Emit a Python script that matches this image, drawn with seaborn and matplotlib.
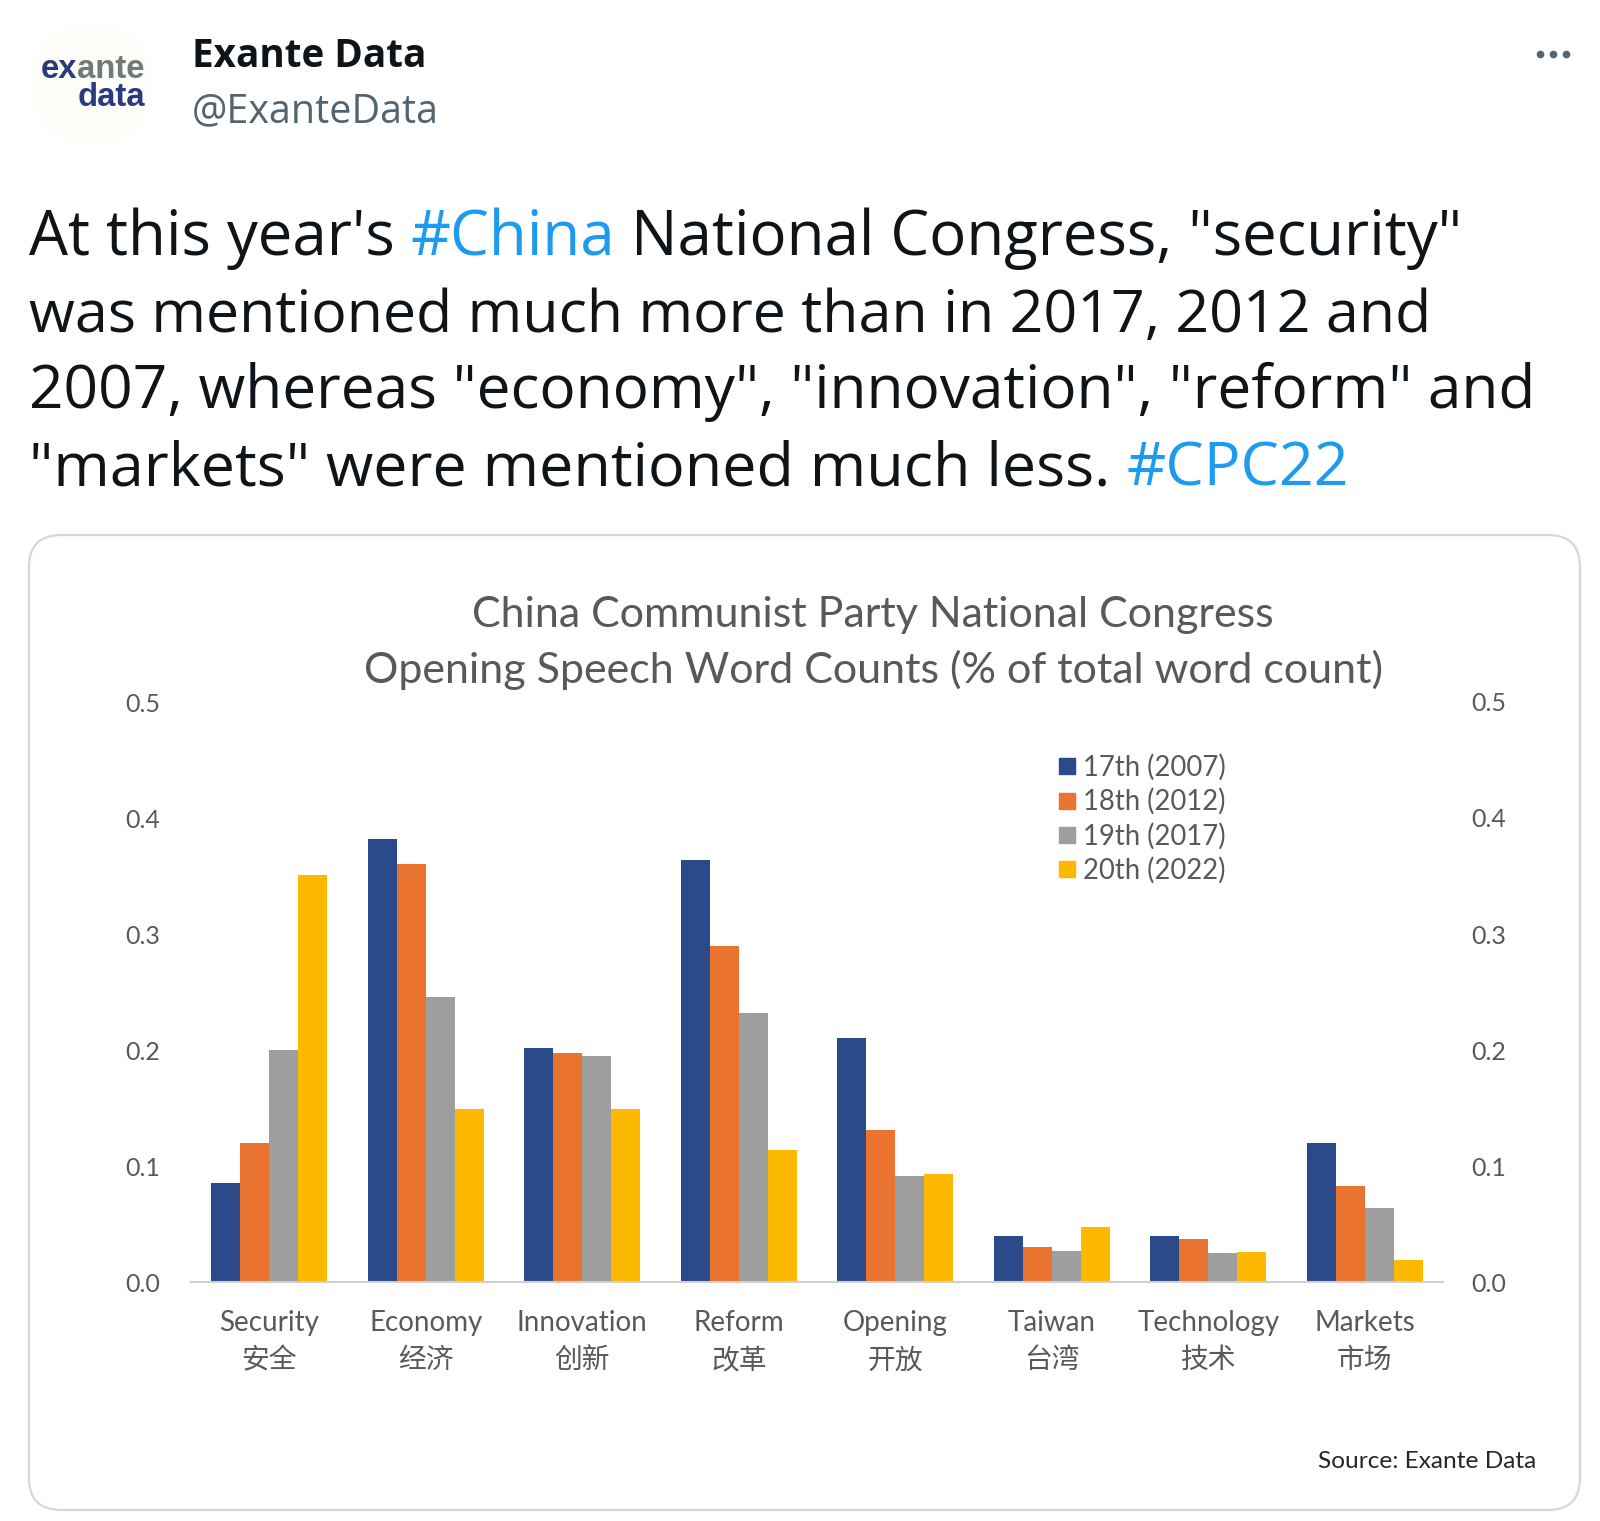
import numpy as np
import pandas as pd
import matplotlib
matplotlib.use("Agg")
import matplotlib.pyplot as plt
import seaborn as sns
from matplotlib.patches import FancyBboxPatch, Circle
from matplotlib.lines import Line2D

# ---------------- data ----------------
categories_en = ["Security", "Economy", "Innovation", "Reform", "Opening", "Taiwan", "Technology", "Markets"]
categories_zh = ["安全", "经济", "创新", "改革", "开放", "台湾", "技术", "市场"]
series_names = ["17th (2007)", "18th (2012)", "19th (2017)", "20th (2022)"]
v2007 = [0.085, 0.382, 0.202, 0.364, 0.210, 0.040, 0.040, 0.120]
v2012 = [0.120, 0.360, 0.197, 0.290, 0.131, 0.030, 0.037, 0.083]
v2017 = [0.200, 0.246, 0.195, 0.232, 0.091, 0.027, 0.025, 0.064]
v2022 = [0.351, 0.149, 0.149, 0.114, 0.093, 0.047, 0.026, 0.019]
y_ticks = [0.0, 0.1, 0.2, 0.3, 0.4, 0.5]
y_tick_labels = ["0.0", "0.1", "0.2", "0.3", "0.4", "0.5"]
colors = ["#2A4A8A", "#EA7330", "#9E9E9E", "#FDB800"]

chart_title = ["China Communist Party National Congress",
               "Opening Speech Word Counts (% of total word count)"]
source_text = "Source: Exante Data"

tweet_name = "Exante Data"
tweet_handle = "@ExanteData"
tweet_lines = [
    [("At this year's ", "k"), ("#China", "b"), (" National Congress, \"security\"", "k")],
    [("was mentioned much more than in 2017, 2012 and", "k")],
    [("2007, whereas \"economy\", \"innovation\", \"reform\" and", "k")],
    [("\"markets\" were mentioned much less. ", "k"), ("#CPC22", "b")],
]
tweet_line_widths = [1436, 1405, 1507, 1318]

labels = [f"{e}\n{z}" for e, z in zip(categories_en, categories_zh)]
series_vals = [v2007, v2012, v2017, v2022]
rows = []
for name, vals in zip(series_names, series_vals):
    for lab, v in zip(labels, vals):
        rows.append({"category": lab, "series": name, "value": v})
df = pd.DataFrame(rows)

# ---------------- figure ----------------
W, H, DPI = 1600, 1521, 100
sns.set_theme(style="white")
plt.rcParams["font.family"] = ["Lato", "Noto Sans CJK SC", "DejaVu Sans"]

fig = plt.figure(figsize=(W / DPI, H / DPI), dpi=DPI)
fig.patch.set_facecolor("white")
renderer = fig.canvas.get_renderer()


def fx(px):
    return px / W


def fy(py):
    return 1 - py / H


def measure(s, size, **kw):
    t = fig.text(0, 0, s, fontsize=size, **kw)
    w = t.get_window_extent(renderer=renderer).width
    t.remove()
    return w


def fitsize(s, target, base=30, **kw):
    return base * target / measure(s, base, **kw)


# card
card = FancyBboxPatch((29 / DPI, (H - 1510) / DPI), (1580 - 29) / DPI, (1510 - 535) / DPI,
                      boxstyle="round,pad=0,rounding_size=0.32",
                      transform=fig.dpi_scale_trans, facecolor="white",
                      edgecolor="#cfd9de", linewidth=1.6, zorder=0)
fig.add_artist(card)

# logo
logo = Circle((92 / DPI, (H - 84) / DPI), 62 / DPI, transform=fig.dpi_scale_trans,
              facecolor="#fdfdfa", edgecolor="none")
fig.add_artist(logo)
logo_kw = dict(family=["Liberation Sans", "DejaVu Sans"], fontweight="bold")
ls = fitsize("exante", 104, **logo_kw)
w_ante = measure("ante", ls, **logo_kw)
fig.text(fx(145), fy(78), "ante", ha="right", va="baseline", fontsize=ls, color="#707a76", **logo_kw)
fig.text(fx(145 - w_ante), fy(78), "ex", ha="right", va="baseline", fontsize=ls, color="#2b3a7f", **logo_kw)
fig.text(fx(145), fy(106), "data", ha="right", va="baseline", fontsize=ls, color="#2b3a7f", **logo_kw)

# header
tw_kw = dict(family=["Open Sans", "DejaVu Sans"])
ns = fitsize(tweet_name, 234, fontweight="bold", **tw_kw)
fig.text(fx(192), fy(67), tweet_name, ha="left", va="baseline", fontsize=ns,
         fontweight="bold", color="#0f1419", **tw_kw)
hs = fitsize(tweet_handle, 247, **tw_kw)
fig.text(fx(192), fy(122), tweet_handle, ha="left", va="baseline", fontsize=hs,
         color="#536471", **tw_kw)
fig.add_artist(Line2D([fx(1540), fx(1553), fx(1566)], [fy(54)] * 3, marker="o", ls="none",
                      ms=4.5, color="#536471", transform=fig.transFigure))

# tweet text
baselines = [255, 332, 408, 485]
x0 = 29
for segs, yb, tgt in zip(tweet_lines, baselines, tweet_line_widths):
    line = "".join(s for s, _ in segs)
    ts = fitsize(line, tgt, **tw_kw)
    acc = ""
    for s, c in segs:
        full = acc + s
        st = s.lstrip()
        if acc == "":
            xs = x0
        else:
            xs = x0 + measure(full.rstrip(), ts, **tw_kw) - measure(st.rstrip(), ts, **tw_kw)
        fig.text(fx(xs), fy(yb), st, ha="left", va="baseline", fontsize=ts,
                 color="#1d9bf0" if c == "b" else "#0f1419", **tw_kw)
        acc = full

# chart title
tsz = fitsize(chart_title[1], 1021)
fig.text(fx(873), fy(627), chart_title[0], ha="center", va="baseline", fontsize=tsz, color="#595959")
fig.text(fx(873), fy(683), chart_title[1], ha="center", va="baseline", fontsize=tsz, color="#595959")

# source
ss = fitsize(source_text, 218)
fig.text(fx(1536), fy(1461), source_text, ha="right", va="center", fontsize=ss, color="#262626")

# ---------------- bar chart ----------------
ax = fig.add_axes([fx(191), fy(1282), (1443 - 191) / W, (1282 - 702) / H])
sns.barplot(data=df, x="category", y="value", hue="series", palette=colors,
            width=0.74, saturation=1, linewidth=0, ax=ax)
ax.set_facecolor("none")
ax.set_xlim(-0.5, len(labels) - 0.5)
ax.set_ylim(0, 0.5)
ax.set_xlabel("")
ax.set_ylabel("")
ax.set_yticks(y_ticks)
ax.set_yticklabels(y_tick_labels)
ax.tick_params(axis="y", length=0, pad=22, labelsize=18, labelcolor="#595959")
ax.set_xticks(range(len(labels)))
ax.set_xticklabels(labels, linespacing=1.55)
ax.tick_params(axis="x", which="major", length=0, pad=20, labelsize=20, labelcolor="#595959")
ax.set_xticks(np.arange(-0.5, len(labels), 1.0), minor=True)
ax.tick_params(axis="x", which="minor", length=10, width=1.5, color="#d0d0d0", direction="out")
for sp in ["top", "right", "left"]:
    ax.spines[sp].set_visible(False)
ax.spines["bottom"].set_color("#d0d0d0")
ax.spines["bottom"].set_linewidth(1.5)
ax.grid(False)

ax2 = ax.twinx()
ax2.set_ylim(0, 0.5)
ax2.set_yticks(y_ticks)
ax2.set_yticklabels(y_tick_labels)
ax2.tick_params(axis="y", length=0, pad=20, labelsize=18, labelcolor="#595959")
for sp in ax2.spines.values():
    sp.set_visible(False)
ax2.grid(False)

handles = [Line2D([], [], marker="s", ls="none", ms=11.5, color=c) for c in colors]
ax.legend(handles, series_names, loc="upper left", bbox_to_anchor=(fx(1053), fy(754)),
          bbox_transform=fig.transFigure, frameon=False, fontsize=19.8, labelcolor="#595959",
          handletextpad=0.1, labelspacing=0.27, borderpad=0, borderaxespad=0, handlelength=1.0)

fig.savefig("out.png", dpi=DPI, facecolor="white")
